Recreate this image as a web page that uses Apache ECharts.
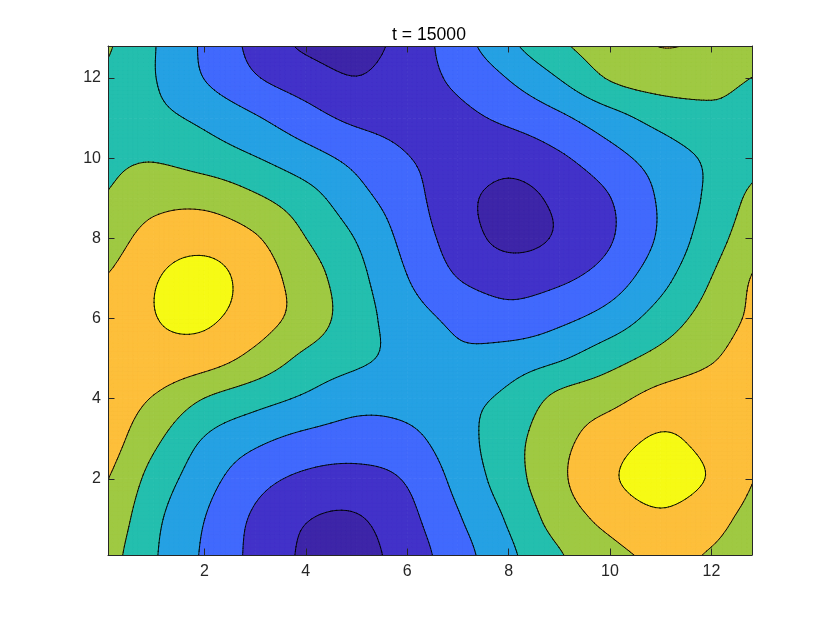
<!DOCTYPE html>
<html>
<head>
<meta charset="utf-8">
<script src="https://cdn.jsdelivr.net/npm/echarts@6/dist/echarts.min.js"></script>
<style>
html,body{margin:0;padding:0;background:#ffffff;}
#chart{width:830px;height:623px;}
</style>
</head>
<body>
<div id="chart"></div>
<script>
// ---- data ----
const titleText = 't = 15000';
const xNodes = [0, 1, 2, 3, 4, 5, 6, 7, 8, 9, 10, 11, 12, 13];
const yNodes = [0, 1, 2, 3, 4, 5, 6, 7, 8, 9, 10, 11, 12, 13];
// field values at (xNodes[i], yNodes[j]); one array per y row
const z_y0  = [4.90, 3.60, 2.36, 1.24, 0.35, 0.14, 0.97, 2.05, 3.27, 4.38, 5.20, 5.62, 5.42, 5.05];
const z_y1  = [5.25, 3.75, 2.51, 1.35, 0.55, 0.42, 1.22, 2.40, 3.62, 4.94, 5.78, 6.30, 5.80, 5.15];
const z_y2  = [5.60, 4.14, 2.90, 1.87, 1.30, 1.15, 1.60, 2.79, 4.03, 5.30, 6.35, 6.93, 6.40, 5.40];
const z_y3  = [5.97, 4.73, 3.45, 2.74, 2.26, 2.09, 2.25, 3.09, 4.11, 5.19, 6.02, 6.60, 6.20, 5.80];
const z_y4  = [6.12, 5.43, 4.48, 3.88, 3.35, 2.82, 2.85, 3.20, 3.72, 4.75, 5.22, 5.85, 6.00, 6.00];
const z_y5  = [6.20, 6.20, 5.95, 5.20, 4.27, 3.70, 3.17, 2.70, 2.98, 3.40, 4.14, 4.83, 5.42, 6.00];
const z_y6  = [5.95, 6.47, 6.65, 5.96, 5.07, 3.94, 2.95, 2.27, 1.87, 2.27, 2.92, 3.94, 4.94, 5.75];
const z_y7  = [5.50, 6.42, 6.85, 6.04, 4.99, 3.81, 2.53, 1.50, 1.12, 1.33, 1.99, 3.18, 4.51, 5.70];
const z_y8  = [4.98, 5.90, 6.12, 5.60, 4.51, 3.45, 2.19, 1.05, 0.25, 0.62, 1.42, 2.66, 4.05, 5.20];
const z_y9  = [4.52, 5.15, 5.20, 4.65, 3.90, 2.84, 1.90, 0.85, 0.22, 0.72, 1.48, 2.63, 3.73, 4.85];
const z_y10 = [4.33, 4.43, 4.05, 3.55, 2.89, 2.22, 1.54, 1.18, 0.88, 1.35, 2.14, 2.95, 3.69, 4.30];
const z_y11 = [4.19, 3.78, 3.28, 2.60, 1.88, 1.30, 1.20, 1.30, 1.69, 2.30, 3.12, 3.85, 4.30, 4.25];
const z_y12 = [4.42, 3.55, 2.48, 1.58, 1.00, 0.53, 1.09, 1.69, 2.54, 3.53, 4.58, 4.95, 4.75, 4.45];
const z_y13 = [4.68, 3.56, 2.33, 1.19, 0.24, 0.04, 0.89, 2.09, 3.38, 4.44, 5.07, 5.60, 5.40, 4.83];
const contourLevels = [0.5, 1.5, 2.5, 3.5, 4.5, 5.5, 6.5];
const bandColors = ['#3e26a8', '#4232c9', '#4169fd', '#26a1e3', '#24bfae', '#9fc943', '#fdbf3b', '#f6fa15'];
const xRange = [0.1, 12.8];
const yRange = [0.1, 12.8];

const Z = [z_y0, z_y1, z_y2, z_y3, z_y4, z_y5, z_y6, z_y7, z_y8, z_y9, z_y10, z_y11, z_y12, z_y13];

const nodeData = [];
for (let j = 0; j < yNodes.length; j++) {
  for (let i = 0; i < xNodes.length; i++) {
    nodeData.push([xNodes[i], yNodes[j], Z[j][i]]);
  }
}

// ---- contour drawing helpers ----
function zAt(i, j) {
  i = Math.max(0, Math.min(xNodes.length - 1, i));
  j = Math.max(0, Math.min(yNodes.length - 1, j));
  return Z[j][i];
}
function cr(p0, p1, p2, p3, t) {
  return p1 + 0.5 * t * (p2 - p0 + t * (2 * p0 - 5 * p1 + 4 * p2 - p3 + t * (3 * (p1 - p2) + p3 - p0)));
}
function surf(i, j, tx, ty) {
  const r = [];
  for (let m = -1; m <= 2; m++) {
    r.push(cr(zAt(i - 1, j + m), zAt(i, j + m), zAt(i + 1, j + m), zAt(i + 2, j + m), tx));
  }
  return cr(r[0], r[1], r[2], r[3], ty);
}
function bandIndex(v) {
  let k = 0;
  while (k < contourLevels.length && v > contourLevels[k]) k++;
  return k;
}
function clipPoly(poly, t, keepAbove) {
  const out = [];
  for (let n = 0; n < poly.length; n++) {
    const A = poly[n], B = poly[(n + 1) % poly.length];
    const ina = keepAbove ? A.v >= t : A.v <= t;
    const inb = keepAbove ? B.v >= t : B.v <= t;
    if (ina) out.push(A);
    if (ina !== inb) {
      const s = (t - A.v) / (B.v - A.v);
      out.push({ x: A.x + s * (B.x - A.x), y: A.y + s * (B.y - A.y), v: t });
    }
  }
  return out;
}

function makeRenderer(mode) {
  return function (params, api) {
    const x0 = api.value(0), y0 = api.value(1);
    const i = xNodes.indexOf(x0), j = yNodes.indexOf(y0);
    if (i < 0 || j < 0 || i >= xNodes.length - 1 || j >= yNodes.length - 1) return null;
    const S = 10;
    const x1 = xNodes[i + 1], y1 = yNodes[j + 1];
    const F = [];
    for (let b = 0; b <= S; b++) {
      const row = [];
      for (let a = 0; a <= S; a++) {
        row.push({ x: x0 + (x1 - x0) * a / S, y: y0 + (y1 - y0) * b / S, v: surf(i, j, a / S, b / S) });
      }
      F.push(row);
    }
    const pt = (p) => { const c = api.coord([p.x, p.y]); return c[0].toFixed(2) + ' ' + c[1].toFixed(2); };
    const bandPaths = bandColors.map(() => []);
    const lineParts = [];
    for (let b = 0; b < S; b++) {
      for (let a = 0; a < S; a++) {
        const P00 = F[b][a], P10 = F[b][a + 1], P01 = F[b + 1][a], P11 = F[b + 1][a + 1];
        const tris = [[P00, P10, P11], [P00, P11, P01]];
        for (const tri of tris) {
          const vmin = Math.min(tri[0].v, tri[1].v, tri[2].v);
          const vmax = Math.max(tri[0].v, tri[1].v, tri[2].v);
          if (mode === 'fill') {
            const kmin = bandIndex(vmin), kmax = bandIndex(vmax);
            for (let k = kmin; k <= kmax; k++) {
              let poly = tri;
              if (kmin !== kmax) {
                if (k > 0) poly = clipPoly(poly, contourLevels[k - 1], true);
                if (k < contourLevels.length) poly = clipPoly(poly, contourLevels[k], false);
              }
              if (poly.length >= 3) {
                bandPaths[k].push('M' + poly.map(pt).join('L') + 'Z');
              }
            }
          } else {
            for (const L of contourLevels) {
              if (!(vmin < L && vmax >= L)) continue;
              const pts = [];
              for (let e = 0; e < 3; e++) {
                const A = tri[e], B = tri[(e + 1) % 3];
                if ((A.v < L) !== (B.v < L)) {
                  const s = (L - A.v) / (B.v - A.v);
                  pts.push({ x: A.x + s * (B.x - A.x), y: A.y + s * (B.y - A.y) });
                }
              }
              if (pts.length === 2) lineParts.push('M' + pt(pts[0]) + 'L' + pt(pts[1]));
            }
          }
        }
      }
    }
    const children = [];
    if (mode === 'fill') {
      bandPaths.forEach((arr, k) => {
        if (!arr.length) return;
        children.push({
          type: 'path',
          shape: { pathData: arr.join('') },
          style: { fill: bandColors[k], stroke: bandColors[k], lineWidth: 0.8, lineJoin: 'round' },
          silent: true
        });
      });
    } else if (lineParts.length) {
      children.push({
        type: 'path',
        shape: { pathData: lineParts.join('') },
        style: { fill: 'none', stroke: '#000000', lineWidth: 0.9, lineJoin: 'round', lineCap: 'round' },
        silent: true
      });
    }
    return { type: 'group', children: children };
  };
}

const axisColor = '#262626';
const fontFam = '"Liberation Sans", Arial, Helvetica, sans-serif';

function xAxisDef(position, showLabel) {
  return {
    type: 'value', position: position, min: xRange[0], max: xRange[1], splitNumber: 6, z: 10,
    axisLine: { show: true, onZero: false, lineStyle: { color: axisColor, width: 1 } },
    axisTick: { show: true, inside: true, length: 6.5, lineStyle: { color: axisColor, width: 1 } },
    axisLabel: { show: showLabel, margin: 9, fontSize: 16, color: axisColor, fontFamily: fontFam, showMinLabel: false, showMaxLabel: false },
    splitLine: { show: false }
  };
}
function yAxisDef(position, showLabel) {
  return {
    type: 'value', position: position, min: yRange[0], max: yRange[1], splitNumber: 6, z: 10,
    axisLine: { show: true, onZero: false, lineStyle: { color: axisColor, width: 1 } },
    axisTick: { show: true, inside: true, length: 6.5, lineStyle: { color: axisColor, width: 1 } },
    axisLabel: { show: showLabel, margin: 7, fontSize: 16, color: axisColor, fontFamily: fontFam, showMinLabel: false, showMaxLabel: false },
    splitLine: { show: false }
  };
}

const chart = echarts.init(document.getElementById('chart'), null, { renderer: 'canvas' });
chart.setOption({
  animation: false,
  backgroundColor: '#ffffff',
  title: {
    text: titleText, left: 424, top: 21, textAlign: 'center',
    textStyle: { fontSize: 17.6, fontWeight: 'normal', color: '#000000', fontFamily: fontFam }
  },
  grid: { left: 108, top: 46, width: 644, height: 509, containLabel: false, outerBoundsMode: 'none' },
  xAxis: [xAxisDef('bottom', true), xAxisDef('top', false)],
  yAxis: [yAxisDef('left', true), yAxisDef('right', false)],
  series: [
    { type: 'custom', name: 'fill', coordinateSystem: 'cartesian2d', xAxisIndex: 0, yAxisIndex: 0,
      data: nodeData, renderItem: makeRenderer('fill'), clip: true, silent: true, z: 2 },
    { type: 'custom', name: 'contour', coordinateSystem: 'cartesian2d', xAxisIndex: 0, yAxisIndex: 0,
      data: nodeData, renderItem: makeRenderer('line'), clip: true, silent: true, z: 3 }
  ]
});
</script>
</body>
</html>
